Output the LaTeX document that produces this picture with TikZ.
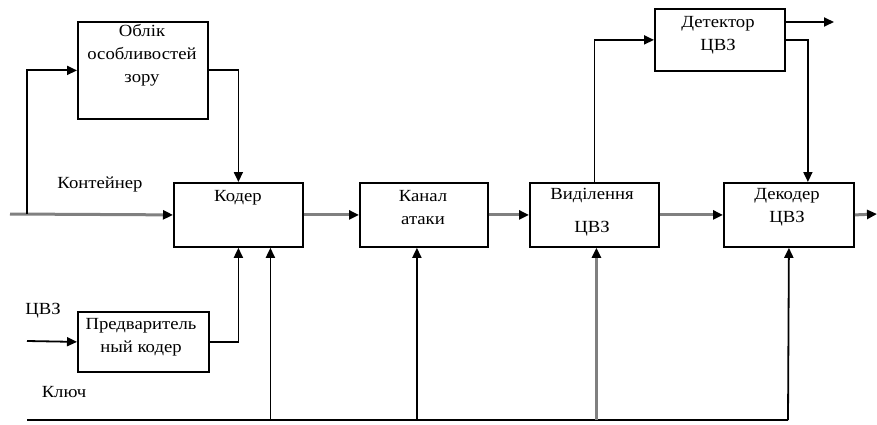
\documentclass[tikz,border=0pt]{standalone}
\usepackage{fontspec}
\setmainfont{Liberation Serif}[FakeStretch=1.1]
\usetikzlibrary{arrows.meta}
\begin{document}
\begin{tikzpicture}[x=1pt,y=-1pt,
  blk/.style={draw,line width=1.8pt,inner sep=0pt,anchor=north west},
  lbl/.style={font=\fontsize{17}{23}\selectfont,inner sep=0pt,align=center},
  ln/.style={line width=1.8pt},
  sig/.style={line width=3pt,draw=black!50},
  arr/.style={-{Triangle[length=10pt,width=9pt,color=black]}}]
\useasboundingbox (0,0) rectangle (877,425);
% blocks
\node[blk,minimum width=130pt,minimum height=97pt] (obl) at (77,21) {};
\node[blk,minimum width=129pt,minimum height=64pt] (kod) at (173,182) {};
\node[blk,minimum width=128pt,minimum height=64pt] (kan) at (359,182) {};
\node[blk,minimum width=129pt,minimum height=64pt] (vid) at (529,182) {};
\node[blk,minimum width=130pt,minimum height=64pt] (dek) at (723,182) {};
\node[blk,minimum width=130pt,minimum height=62pt] (det) at (654,8) {};
\node[blk,minimum width=131pt,minimum height=60pt] (pre) at (77,311) {};
% block texts
\node[lbl] (toblik) at (142,55) {Облік\\особливостей\\зору};
\node[lbl] (tkod) at (238,198) {Кодер};
\node[lbl] (tkan) at (423,208) {Канал\\атаки};
\node[lbl,font=\fontsize{17}{33}\selectfont] (tvid) at (592,212) {Виділення\\ЦВЗ};
\node[lbl] (tdek) at (787,207) {Декодер\\ЦВЗ};
\node[lbl] (tdet) at (718,35) {Детектор\\ЦВЗ};
\node[lbl] (tpre) at (141,337) {Предваритель\\ный кодер};
% free labels
\node[lbl] (lcont) at (100,184) {Контейнер};
\node[lbl] (lcvz) at (43,311) {ЦВЗ};
\node[lbl] (lkey) at (64,392) {Ключ};
% coordinates
\coordinate (cin) at (10,214);
\coordinate (br) at (27,214);
\coordinate (zin) at (27,341);
\coordinate (k0) at (27,420);
\coordinate (k1) at (788,420);
\coordinate (kin) at ([xshift=32pt]kod.south);
\coordinate (kanin) at ([xshift=-7pt]kan.south);
\coordinate (vidin) at ([xshift=2pt]vid.south);
\coordinate (dout) at (834,22);
\coordinate (dk) at ([xshift=19pt]dek.north);
\coordinate (dkout) at (877,214);
% signal path
\draw[sig,arr] (cin) -- (kod.west);
\draw[sig,arr] (kod.east) -- (kan.west);
\draw[sig,arr] (kan.east) -- (vid.west);
\draw[sig,arr] (vid.east) -- (dek.west);
\draw[sig,arr] (dek.east) -- (dkout);
% other connectors
\draw[ln,arr] (br) |- (obl.west);
\draw[ln,arr] (obl.east) -| (kod.north);
\draw[ln,arr] (zin) -- (pre.west);
\draw[ln,arr] (pre.east) -| (kod.south);
\draw[ln] (k0) -- (k1);
\draw[ln,arr] (kin |- k0) -- (kin);
\draw[ln,arr] (kanin |- k0) -- (kanin);
\draw[sig,arr] (vidin |- k0) -- (vidin);
\draw[ln,arr] (k1) -- (dek.south);
\draw[ln,arr] (vid.north) |- (det.west);
\draw[ln,arr] (det.east |- dout) -- (dout);
\draw[ln,arr] (det.east) -| (dk);
\end{tikzpicture}
\end{document}
